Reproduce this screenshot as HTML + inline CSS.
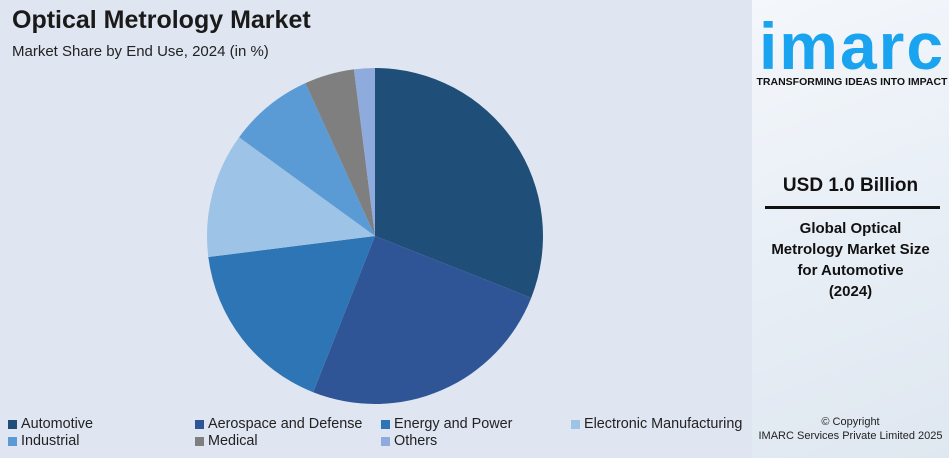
<!DOCTYPE html>
<html><head><meta charset="utf-8"><style>
body{margin:0;width:949px;height:458px;overflow:hidden;font-family:"Liberation Sans",sans-serif;background:#dfe6f1;position:relative}
.abs{position:absolute}
.leg{position:absolute;font-size:14.4px;color:#222;display:flex;align-items:center}
.leg i{display:inline-block;width:9px;height:9px;margin-right:4px}
</style></head><body>
<div class="abs" style="left:12px;top:6px;font-size:25px;font-weight:bold;color:#1a1a1a">Optical Metrology Market</div>
<div class="abs" style="left:12px;top:43px;font-size:15px;color:#222">Market Share by End Use, 2024 (in %)</div>
<div class="abs" style="left:752px;top:0;width:197px;height:458px;background:linear-gradient(160deg,#f4f7fb,#e6edf5 60%,#dfe7f0)"></div>
<div class="abs" style="left:755px;top:14px;width:194px;text-align:center">
<div style="font-size:66px;font-weight:bold;color:#1aa3ef;letter-spacing:2px;line-height:64px">imarc</div>
<div style="font-size:10.5px;font-weight:bold;color:#111;margin-top:-2px">TRANSFORMING IDEAS INTO IMPACT</div></div>
<div class="abs" style="left:752px;top:175px;width:197px;text-align:center;font-size:19px;font-weight:bold;color:#111">USD 1.0 Billion</div>
<div class="abs" style="left:765px;top:206px;width:175px;height:3px;background:#111"></div>
<div class="abs" style="left:752px;top:218px;width:197px;text-align:center;font-size:15px;font-weight:bold;color:#111;line-height:21px">Global Optical<br>Metrology Market Size<br>for Automotive<br>(2024)</div>
<div class="abs" style="left:752px;top:415px;width:197px;text-align:center;font-size:11px;color:#222;line-height:14px">© Copyright<br>IMARC Services Private Limited 2025</div>
<svg class="abs" style="left:0;top:0" width="752" height="458"><g id="pie"></g></svg>
<div id="legend"></div>
<script>
const categories=["Automotive","Aerospace and Defense","Energy and Power","Electronic Manufacturing","Industrial","Medical","Others"];
const values=[31,25,17,12,8.2,4.8,2];
const colors=["#1f4e79","#2f5597","#2e75b6","#9dc3e6","#5b9bd5","#7f7f7f","#8faadc"];
const cx=375,cy=236,r=168;
const g=document.getElementById('pie');
const tot=values.reduce((a,b)=>a+b,0);
let a0=0;
values.forEach((v,i)=>{
 const a1=a0+v/tot*2*Math.PI;
 const p=(a)=>[cx+r*Math.sin(a),cy-r*Math.cos(a)];
 const [x0,y0]=p(a0),[x1,y1]=p(a1);
 const path=document.createElementNS('http://www.w3.org/2000/svg','path');
 path.setAttribute('d',`M${cx},${cy}L${x0},${y0}A${r},${r} 0 ${a1-a0>Math.PI?1:0} 1 ${x1},${y1}Z`);
 path.setAttribute('fill',colors[i]);
 
 
 g.appendChild(path);
 a0=a1;
});
const lx=[8,195,381,571,8,195,381],ly=[416,416,416,416,433,433,433];
const L=document.getElementById('legend');
categories.forEach((c,i)=>{
 const d=document.createElement('div');d.className='leg';
 d.style.left=lx[i]+'px';d.style.top=ly[i]+'px';
 d.innerHTML=`<i style="background:${colors[i]}"></i>${c}`;
 
 
 L.appendChild(d);
});
</script>
</body></html>
